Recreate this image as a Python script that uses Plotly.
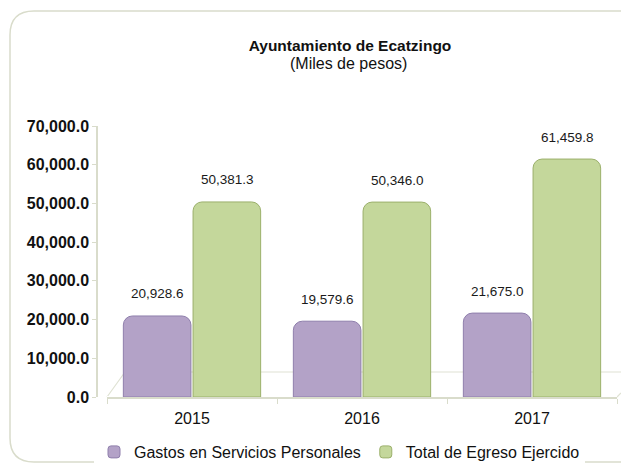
import plotly.graph_objects as go

years = ["2015", "2016", "2017"]
gastos_personales = [20928.6, 19579.6, 21675.0]
total_egreso = [50381.3, 50346.0, 61459.8]
y_ticks = [0, 10000, 20000, 30000, 40000, 50000, 60000, 70000]
y_tick_labels = ["0.0", "10,000.0", "20,000.0", "30,000.0", "40,000.0",
                 "50,000.0", "60,000.0", "70,000.0"]

W, H = 621, 464
L, R, T, B = 97, 4, 126, 67
pw, ph = W - L - R, H - T - B


def px(x):
    return (x - L) / pw


def py(y):
    return (H - B - y) / ph


fig = go.Figure()
fig.add_trace(go.Bar(
    x=years, y=gastos_personales, name="Gastos en Servicios Personales",
    marker=dict(color="#b3a2c7", line=dict(color="#8f7fac", width=1), cornerradius=9),
))
fig.add_trace(go.Bar(
    x=years, y=total_egreso, name="Total de Egreso Ejercido",
    marker=dict(color="#c4d79b", line=dict(color="#9bb06b", width=1), cornerradius=9),
))

# value labels sit above the bars' (3D-looking) tops
# (category index is used: year strings look numeric to plotly)
for series, shift in ((gastos_personales, -35), (total_egreso, 35)):
    for i, v in enumerate(series):
        fig.add_annotation(x=i, y=v, text=f"{v:,.1f}", showarrow=False,
                           xshift=shift, yshift=22, yanchor="middle",
                           font=dict(size=13.5, color="#1a1a1a"))

# subtitle
fig.add_annotation(x=px(348), y=py(63), xref="paper", yref="paper",
                   text="(Miles de pesos)", showarrow=False, yanchor="middle",
                   font=dict(size=16))

# rounded frame around the chart
x0, y0, x1, y1 = px(10), py(11), px(640), py(462)
rx, ry = 24 / pw, 24 / ph
frame = (f"M {x0 + rx} {y0} L {x1} {y0} L {x1} {y1} L {x0 + rx} {y1} "
         f"Q {x0} {y1} {x0} {y1 + ry} L {x0} {y0 - ry} Q {x0} {y0} {x0 + rx} {y0} Z")
fig.add_shape(type="path", path=frame, xref="paper", yref="paper",
              line=dict(color="#d9dccb", width=1.5), layer="below")

# faint floor under the bars
floor = (f"M {px(107)} {py(397)} L {px(125)} {py(372)} L {px(621)} {py(372)} "
         f"M {px(617)} {py(397)} L {px(621)} {py(393)}")
fig.add_shape(type="path", path=floor, xref="paper", yref="paper",
              line=dict(color="#dfe2d3", width=1.2), layer="below")

fig.update_layout(
    width=W, height=H,
    margin=dict(l=L, r=R, t=T, b=B, autoexpand=False),
    paper_bgcolor="white", plot_bgcolor="white",
    font=dict(family="Liberation Sans, Arial, sans-serif", size=15, color="#111111"),
    title=dict(
        text="<b>Ayuntamiento de Ecatzingo</b>",
        x=350 / W, xanchor="center", y=1 - 46 / H, yanchor="middle",
        font=dict(size=15.5),
    ),
    barmode="group", bargap=0.18, bargroupgap=0.03,
    showlegend=True,
    legend=dict(orientation="h", x=px(94), xanchor="left", y=py(435), yanchor="top",
                font=dict(size=16), itemwidth=30, traceorder="normal"),
    xaxis=dict(type="category", domain=[10 / pw, 1], showline=True,
               linecolor="#d9dccb", linewidth=1.5,
               ticks="outside", tickson="boundaries", tickcolor="#d9dccb", ticklen=5,
               tickfont=dict(size=16), showgrid=False, ticklabelstandoff=6),
    yaxis=dict(range=[0, 70000], tickvals=y_ticks, ticktext=y_tick_labels,
               anchor="free", position=0,
               tickfont=dict(size=16, weight="bold"), showline=True,
               linecolor="#d9dccb", linewidth=1.5, ticks="outside",
               tickcolor="#d9dccb", ticklen=4, showgrid=False),
)

fig.write_html("out.html", config={"displayModeBar": False},
               post_script="document.body.style.margin = '0';")
